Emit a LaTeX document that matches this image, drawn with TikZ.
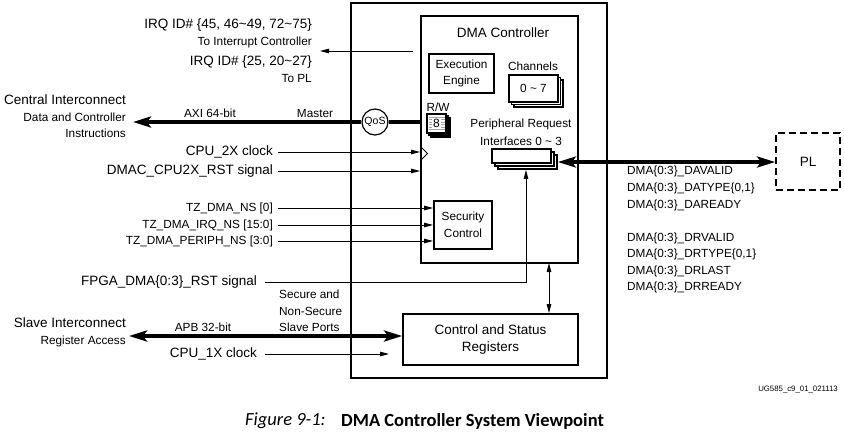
\documentclass[tikz,border=0pt]{standalone}
\usepackage{fontspec}
\setmainfont{Liberation Sans}
\newfontfamily\capfont{Carlito}
\usetikzlibrary{arrows.meta}
\begin{document}
\begin{tikzpicture}[x=1pt,y=-1pt,
  box/.style={draw, line width=1.8pt, inner sep=0pt, align=center, fill=white},
  big/.style={font=\fontsize{13.5}{16.5}\selectfont},
  sml/.style={font=\fontsize{11.8}{16.6}\selectfont},
  tiny/.style={font=\fontsize{7.8}{9}\selectfont},
  lbl/.style={inner sep=0pt},
  sig/.style={line width=0.9pt, -{Triangle[length=9pt,width=4.5pt]}},
  sig2/.style={line width=0.9pt, {Triangle[length=9pt,width=4.5pt]}-{Triangle[length=9pt,width=4.5pt]}},
  wire/.style={line width=0.9pt},
  bus/.style={line width=4.2pt, -{Stealth[length=18pt,width=11pt,inset=4pt]}},
  bus2/.style={line width=4.2pt, {Stealth[length=18pt,width=11pt,inset=4pt]}-{Stealth[length=18pt,width=11pt,inset=4pt]}},
]
\useasboundingbox (0,0) rectangle (844,432);

% main boxes
\node[box, minimum width=256pt, minimum height=375pt] (outer) at (479,190.5) {};
\node[box, minimum width=157pt, minimum height=247pt] (inner) at (499.5,139.5) {};
\node[lbl,big] (dmac) at (503,33) {DMA Controller};
\node[box, sml, minimum width=65pt, minimum height=39pt] (exec) at (461.5,73.5) {Execution\\Engine};
\node[lbl,sml] (chl) at (533,66) {Channels};
\node[box, minimum width=49pt, minimum height=27pt] (ch3) at (538.5,93.5) {};
\node[box, minimum width=49pt, minimum height=27pt] (ch2) at (536,91) {};
\node[box, sml, minimum width=49pt, minimum height=27pt] (ch1) at (533.5,88.5) {0 \textasciitilde\ 7};

% R/W stack
\node[lbl,sml] (rwl) at (438,107) {R/W};
\node[box, line width=1.2pt, minimum width=19pt, minimum height=19pt] (rw3) at (440.5,127.5) {};
\node[box, line width=1.2pt, minimum width=19pt, minimum height=19pt] (rw2) at (438.5,125.5) {};
\node[box, line width=1.6pt, minimum width=19pt, minimum height=19pt] (rw1) at (436.5,123.5) {};
\foreach \yy in {117,119.5,122,124.5,127,129.5} \draw[gray!70, line width=0.6pt] (428.5,\yy) -- (444.5,\yy);
\node[lbl, fill=white, inner xsep=1pt, font=\fontsize{12}{12}\selectfont] (rw8) at (436.5,123.5) {8};

% peripheral request
\node[lbl,sml] (prl) at (521,124) {Peripheral Request};
\node[lbl,sml] (prl2) at (521,141) {Interfaces 0 \textasciitilde\ 3};
\node[box, minimum width=59pt, minimum height=14pt] (pr3) at (527.5,162) {};
\node[box, minimum width=59pt, minimum height=14pt] (pr2) at (524.5,159) {};
\node[box, minimum width=59pt, minimum height=14pt] (pr1) at (521.5,156) {};

% security, csr, PL
\node[box, sml, minimum width=58pt, minimum height=48pt] (sec) at (463,225) {Security\\Control};
\node[box, big, minimum width=175pt, minimum height=51pt] (csr) at (490.5,339.5) {Control and Status\\Registers};
\node[box, big, dash pattern=on 7pt off 4pt, minimum width=64pt, minimum height=57pt] (pl) at (808,161.5) {PL};

% QoS
\node[draw, circle, line width=1.2pt, minimum size=26pt, inner sep=0pt, fill=white, font=\fontsize{10.5}{11}\selectfont] (qos) at (375,122) {QoS};

% left texts
\node[lbl,big,anchor=east] (irq1) at (312,25) {IRQ ID\# \{45, 46\textasciitilde 49, 72\textasciitilde 75\}};
\node[lbl,sml,anchor=east] (irq2) at (312,42) {To Interrupt Controller};
\node[lbl,big,anchor=east] (irq3) at (312,62) {IRQ ID\# \{25, 20\textasciitilde 27\}};
\node[lbl,sml,anchor=east] (irq4) at (312,78) {To PL};
\node[lbl,big,anchor=east] (ci1) at (126,100) {Central Interconnect};
\node[lbl,sml,anchor=east] (ci2) at (126,117) {Data and Controller};
\node[lbl,sml,anchor=east] (ci3) at (126,133) {Instructions};
\node[lbl,sml] (axi) at (210,113) {AXI 64-bit};
\node[lbl,sml] (mst) at (315,113) {Master};
\node[lbl,big,anchor=east] (cpu2x) at (273,152) {CPU\_2X clock};
\node[lbl,big,anchor=east] (rst) at (273,171) {DMAC\_CPU2X\_RST signal};
\node[lbl,sml,anchor=east] (tz1) at (273,208) {TZ\_DMA\_NS [0]};
\node[lbl,sml,anchor=east] (tz2) at (273,225) {TZ\_DMA\_IRQ\_NS [15:0]};
\node[lbl,sml,anchor=east] (tz3) at (273,241) {TZ\_DMA\_PERIPH\_NS [3:0]};
\node[lbl,big,anchor=east] (fpga) at (257,282) {FPGA\_DMA\{0:3\}\_RST signal};
\node[lbl,sml,anchor=west,align=left] (secl) at (279,311) {Secure and\\Non-Secure\\Slave Ports};
\node[lbl,big,anchor=east] (si1) at (126,323) {Slave Interconnect};
\node[lbl,sml,anchor=east] (si2) at (126,341) {Register Access};
\node[lbl,sml] (apb) at (203,327) {APB 32-bit};
\node[lbl,big,anchor=east] (cpu1x) at (257,354) {CPU\_1X clock};

% right texts
\node[lbl,sml,anchor=west,align=left] (dsig1) at (627,188.5) {DMA\{0:3\}\_DAVALID\\DMA\{0:3\}\_DATYPE\{0,1\}\\DMA\{0:3\}\_DAREADY};
\node[lbl,sml,anchor=west,align=left] (dsig2) at (627,263) {DMA\{0:3\}\_DRVALID\\DMA\{0:3\}\_DRTYPE\{0,1\}\\DMA\{0:3\}\_DRLAST\\DMA\{0:3\}\_DRREADY};
\node[lbl,tiny,anchor=east] (ug) at (838,390) {UG585\_c9\_01\_021113};
\node[lbl,anchor=west,font=\capfont\fontsize{18.5}{22}\selectfont\itshape] (fig) at (245,421) {Figure 9-1:};
\node[lbl,anchor=west,font=\capfont\fontsize{18.5}{22}\selectfont\bfseries] (title) at (341,421) {DMA Controller System Viewpoint};

% connectors
\coordinate (irqs) at (413,51);
\coordinate (irqt) at (320,51);
\draw[sig] (irqs) -- (irqt);
\coordinate (axit) at (133,122);
\draw[line width=4.2pt] (inner.west |- qos) -- (qos.east);
\draw[bus] (qos.west) -- (axit);
\draw[sig] ([xshift=5pt]cpu2x.east) -- (cpu2x.east -| inner.west);
\draw[wire] (421,147) -- (427.5,153.5) -- (421,160);
\draw[sig] ([xshift=5pt]rst.east) -- (rst.east -| inner.west);
\draw[sig] ([xshift=5pt]tz1.east) -- (tz1.east -| sec.west);
\draw[sig] ([xshift=5pt]tz2.east) -- (tz2.east -| sec.west);
\draw[sig] ([xshift=5pt]tz3.east) -- (tz3.east -| sec.west);
\coordinate (fturn) at (526,282);
\draw[sig] ([xshift=8pt]fpga.east) -- (fturn) -- (fturn |- pr3.south);
\draw[sig2] (549,263) -- (csr.north -| 549,0);
\coordinate (apbt) at (129,336);
\draw[bus2] (apbt) -- (apbt -| csr.west);
\coordinate (c1end) at (389,354);
\draw[sig] ([xshift=8pt]cpu1x.east) -- (c1end);
\draw[bus2] (pr3.east) -- (pl.west |- pr3.east);
\end{tikzpicture}
\end{document}
